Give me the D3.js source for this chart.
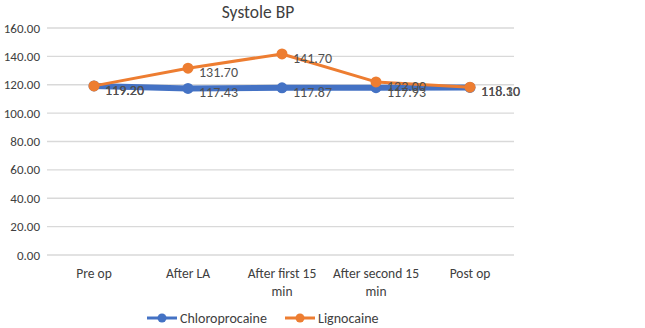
<!DOCTYPE html>
<html>
<head>
<meta charset="utf-8">
<style>
    body { margin: 0; background: #fff; }
    svg { font-family: Calibri, Carlito, Lato, "Open Sans", sans-serif; }
    .grid line { stroke: #d9d9d9; stroke-width: 1.3; }
    .tick-label { font-size: 13px; fill: #404040; }
    .cat-label { font-size: 13.5px; fill: #404040; }
    .dlabel { font-size: 14px; fill: #505050; }
    .legend-label { font-size: 14px; fill: #404040; }
    .title { font-size: 17.5px; fill: #404040; }
</style>
</head>
<body>
<svg width="645" height="328"></svg>
<script src="https://cdn.jsdelivr.net/npm/d3@7"></script>
<script>
    // data
    let categories = ["Pre op", "After LA", "After first 15 min", "After second 15 min", "Post op"];
    let chloroprocaine = [119.20, 117.43, 117.87, 117.93, 118.10];
    let lignocaine = [119.20, 131.70, 141.70, 122.00, 118.30];
    let yTicks = [0, 20, 40, 60, 80, 100, 120, 140, 160];
    let seriesNames = ["Chloroprocaine", "Lignocaine"];
    let seriesColors = ["#4472C4", "#ED7D31"];

    let svg = d3.select("svg");

    let x = d3.scalePoint()
        .domain(categories)
        .range([47, 517])
        .padding(0.5);

    let y = d3.scaleLinear()
        .domain([0, 160])
        .range([255, 28]);

    // gridlines
    svg.append("g")
        .attr("class", "grid")
        .selectAll("line")
        .data(yTicks)
        .join("line")
        .attr("x1", 47)
        .attr("x2", 514)
        .attr("y1", d => y(d))
        .attr("y2", d => y(d));

    // y labels
    svg.append("g")
        .selectAll("text")
        .data(yTicks)
        .join("text")
        .attr("class", "tick-label")
        .attr("x", 40)
        .attr("y", d => y(d))
        .attr("dy", "0.35em")
        .attr("text-anchor", "end")
        .text(d => d3.format(".2f")(d));

    // x labels (wrap "15 min")
    let xl = svg.append("g")
        .selectAll("text")
        .data(categories)
        .join("text")
        .attr("class", "cat-label")
        .attr("text-anchor", "middle")
        .attr("x", d => x(d))
        .attr("y", 278);
    xl.each(function (d) {
        let t = d3.select(this);
        let parts = d.endsWith(" min") ? [d.slice(0, -4), "min"] : [d];
        parts.forEach((p, i) => {
            t.append("tspan").attr("x", x(d)).attr("dy", i ? 18 : 0).text(p);
        });
    });

    // title
    svg.append("text")
        .attr("class", "title")
        .attr("x", 258)
        .attr("y", 18)
        .attr("text-anchor", "middle")
        .text("Systole BP");

    let line = d3.line()
        .x((d, i) => x(categories[i]))
        .y(d => y(d));

    let allSeries = [chloroprocaine, lignocaine];
    let widths = [6, 3];

    allSeries.forEach((vals, s) => {
        svg.append("path")
            .attr("d", line(vals))
            .attr("fill", "none")
            .attr("stroke", seriesColors[s])
            .attr("stroke-width", widths[s])
            .attr("stroke-linejoin", "round");

        svg.append("g")
            .selectAll("circle")
            .data(vals)
            .join("circle")
            .attr("cx", (d, i) => x(categories[i]))
            .attr("cy", d => y(d))
            .attr("r", 5.5)
            .attr("fill", seriesColors[s]);
    });

    allSeries.forEach((vals, s) => {
        svg.append("g")
            .selectAll("text")
            .data(vals)
            .join("text")
            .attr("class", "dlabel")
            .attr("x", (d, i) => x(categories[i]) + 11)
            .attr("y", d => y(d) + 9)
            .text(d => d3.format(".2f")(d));
    });

    // legend
    let legendX = [147, 285];
    seriesNames.forEach((name, i) => {
        let g = svg.append("g");
        g.append("line")
            .attr("x1", legendX[i])
            .attr("x2", legendX[i] + 30)
            .attr("y1", 318)
            .attr("y2", 318)
            .attr("stroke", seriesColors[i])
            .attr("stroke-width", 3);
        g.append("circle")
            .attr("cx", legendX[i] + 15)
            .attr("cy", 318)
            .attr("r", 4.5)
            .attr("fill", seriesColors[i]);
        g.append("text")
            .attr("class", "legend-label")
            .attr("x", legendX[i] + 33)
            .attr("y", 318)
            .attr("dy", "0.35em")
            .text(name);
    });
</script>
</body>
</html>
